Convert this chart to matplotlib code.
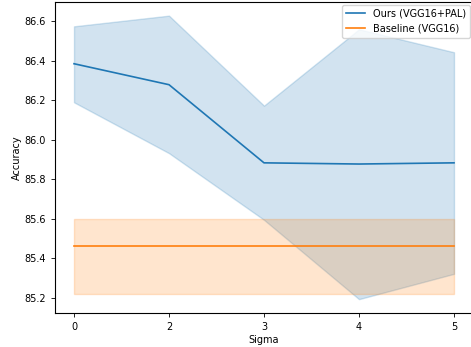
import matplotlib
matplotlib.use("Agg")
import matplotlib.pyplot as plt

# Valeurs
sigma = ["0", "2", "3", "4", "5"]
ours_mean = [86.384, 86.278, 85.883, 85.877, 85.883]
ours_low = [86.189, 85.932, 85.595, 85.194, 85.322]
ours_high = [86.573, 86.627, 86.172, 86.558, 86.442]
base_mean = [85.465] * 5
base_low = [85.220] * 5
base_high = [85.598] * 5

pos = list(range(len(sigma)))

fig = plt.figure(figsize=(4.71, 3.47), dpi=100)
ax = fig.add_axes([55 / 471, 34 / 347, 418 / 471, 311 / 347])

ax.plot(pos, ours_mean, color="tab:blue", lw=1.2, label="Ours (VGG16+PAL)")
ax.fill_between(pos, ours_low, ours_high, color="tab:blue", alpha=0.2)
ax.plot(pos, base_mean, color="tab:orange", lw=1.2, label="Baseline (VGG16)")
ax.fill_between(pos, base_low, base_high, color="tab:orange", alpha=0.2)

ax.set_xlim(-0.2, 4.2)
ax.set_ylim(85.124, 86.696)
ax.set_xticks(pos)
ax.set_xticklabels(sigma)
ax.set_yticks([85.2, 85.4, 85.6, 85.8, 86.0, 86.2, 86.4, 86.6])
ax.tick_params(labelsize=7, length=3, width=0.6)
for s in ax.spines.values():
    s.set_linewidth(0.8)
ax.set_xlabel("Sigma", fontsize=7, labelpad=2)
ax.set_ylabel("Accuracy", fontsize=7, labelpad=2)
ax.legend(loc="upper right", fontsize=7, borderaxespad=0.3, handlelength=2.0)

fig.savefig("out.png", dpi=100)
